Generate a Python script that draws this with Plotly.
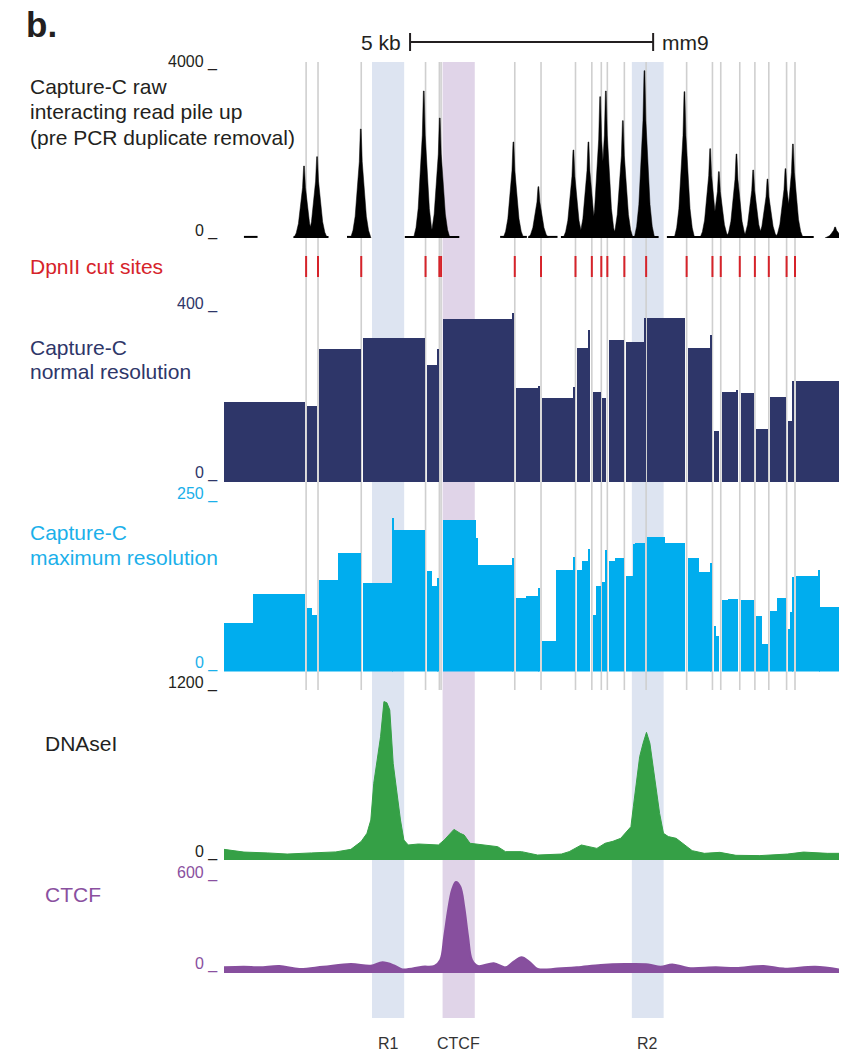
import plotly.graph_objects as go

W, H = 845, 1053

# ---------------- data (genomic position in kb from left edge of view) ----------------
CUT_SITES_KB = [1.689, 1.934, 2.823, 4.146, 4.430, 4.465, 5.981, 6.521, 7.230, 7.566,
                7.761, 7.885, 8.235, 8.683, 9.516, 10.047, 10.218, 10.609, 10.920,
                11.206, 11.572, 11.745]

REGION_NAMES = ["R1", "CTCF", "R2"]
REGION_START_KB = [3.044, 4.496, 8.389]
REGION_END_KB = [3.706, 5.158, 9.043]
REGION_COLORS = ["#dde4f1", "#e0d4e8", "#dde4f1"]

# Capture-C raw pile up: peak summits and heights
RAW_PEAK_KB = [1.646, 1.914, 2.813, 4.109, 4.438, 5.953, 6.467, 7.187, 7.496, 7.737,
               7.854, 8.204, 8.648, 9.471, 10.000, 10.179, 10.541, 10.885, 11.179,
               11.549, 11.702, 12.570]
RAW_PEAK_TOP = [1636, 1848, 2477, 3341, 2727, 2182, 1167, 2000, 2182, 3212,
                3341, 2667, 3803, 3326, 2030, 1508, 1909, 1545, 1341,
                1576, 2136, 250]
# outline of a single pile-up (offset kb, fraction of summit)
RAW_PEAK_DX = [-0.21, -0.16, -0.115, -0.07, -0.03, -0.008, 0.008, 0.03, 0.07, 0.115, 0.16, 0.21]
RAW_PEAK_FRAC = [0, 0.07, 0.2, 0.45, 0.7, 1, 1, 0.7, 0.45, 0.2, 0.07, 0]
RAW_COVER_START = [0.41, 1.43, 2.53, 3.72, 5.68, 6.26, 6.93, 9.11, 12.44]
RAW_COVER_END = [0.69, 2.15, 3.00, 4.84, 6.23, 6.86, 8.94, 12.13, 12.65]

# Capture-C normal resolution (fragment bins)
NORMAL_LEFT = [0.00, 1.71, 1.96, 2.85, 4.17, 4.40, 4.50, 5.94, 6.01, 6.47, 6.55, 7.18, 7.26,
               7.49, 7.60, 7.78, 7.91, 8.26, 8.65, 8.71, 9.54, 10.01, 10.07, 10.24, 10.54,
               10.63, 10.95, 11.23, 11.60, 11.70, 11.77]
NORMAL_RIGHT = [1.67, 1.92, 2.81, 4.13, 4.40, 4.42, 5.94, 5.96, 6.47, 6.50, 7.18, 7.20, 7.49,
                7.52, 7.75, 7.86, 8.22, 8.65, 8.67, 9.48, 10.01, 10.03, 10.19, 10.54, 10.58,
                10.90, 11.19, 11.56, 11.70, 11.73, 12.67]
NORMAL_VALUE = [187, 177, 311, 337, 273, 311, 381, 395, 220, 224, 196, 222, 313,
                355, 210, 196, 332, 327, 384, 384, 313, 344, 119, 210, 215,
                208, 123, 198, 142, 236, 236]

# Capture-C maximum resolution
MAX_LEFT = [0.00, 0.60, 1.71, 1.81, 1.96, 2.35, 2.85, 3.47, 3.49, 4.17, 4.28, 4.40, 4.50,
            5.19, 5.22, 5.94, 6.01, 6.21, 6.47, 6.55, 6.82, 7.18, 7.26, 7.37, 7.49, 7.60,
            7.65, 7.78, 7.84, 7.91, 8.05, 8.26, 8.42, 8.46, 8.71, 9.08, 9.54, 9.78, 10.01,
            10.07, 10.12, 10.24, 10.37, 10.63, 10.95, 11.06, 11.23, 11.38, 11.60, 11.65,
            11.70, 11.77, 12.22, 12.24]
MAX_RIGHT = [0.60, 1.67, 1.81, 1.92, 2.35, 2.81, 3.47, 3.49, 4.13, 4.28, 4.40, 4.42, 5.19,
             5.22, 5.94, 5.96, 6.21, 6.47, 6.50, 6.82, 7.18, 7.21, 7.37, 7.49, 7.52, 7.65,
             7.75, 7.84, 7.86, 8.05, 8.22, 8.42, 8.46, 8.65, 9.08, 9.48, 9.78, 10.01, 10.04,
             10.12, 10.19, 10.37, 10.58, 10.90, 11.06, 11.19, 11.38, 11.56, 11.65, 11.70,
             11.73, 12.22, 12.24, 12.67]
MAX_VALUE = [71, 113, 93, 83, 133, 173, 129, 224, 206, 147, 125, 136, 221,
             195, 155, 166, 107, 110, 122, 45, 148, 167, 148, 161, 179, 83,
             125, 131, 177, 161, 166, 139, 186, 187, 196, 187, 166, 145, 158,
             66, 52, 104, 106, 104, 81, 40, 88, 107, 62, 87,
             138, 139, 148, 94]

# DNaseI signal
DNASE_KB = [0.00, 0.41, 0.90, 1.30, 1.80, 2.30, 2.61, 2.82, 2.94, 3.02, 3.08, 3.17, 3.22, 3.29,
            3.35, 3.41, 3.48, 3.55, 3.63, 3.70, 3.79, 4.00, 4.41, 4.53, 4.65, 4.73, 4.86,
            4.94, 5.06, 5.30, 5.63, 5.79, 6.12, 6.45, 6.94, 7.10, 7.35, 7.51, 7.67, 7.84,
            8.00, 8.16, 8.28, 8.37, 8.42, 8.49, 8.55, 8.62, 8.69, 8.76, 8.83, 8.90, 8.96,
            9.04, 9.14, 9.30, 9.47, 9.63, 9.88, 10.20, 10.53, 11.02, 11.59, 11.92, 12.41,
            12.65]
DNASE_VAL = [75, 56, 50, 42, 50, 57, 75, 130, 188, 282, 541, 741, 870, 1118,
             1110, 1059, 682, 494, 282, 141, 106, 113, 106, 141, 188, 216, 188,
             176, 118, 106, 94, 59, 59, 35, 42, 59, 106, 94, 82, 118,
             132, 153, 200, 235, 376, 565, 729, 824, 901, 824, 659, 471, 329,
             188, 165, 153, 106, 66, 47, 54, 33, 31, 42, 56, 47,
             47]

# CTCF signal
CTCF_KB = [0.00, 0.41, 0.73, 1.14, 1.55, 2.04, 2.61, 3.02, 3.26, 3.51, 3.67, 4.08, 4.33, 4.45,
           4.53, 4.61, 4.69, 4.77, 4.86, 4.94, 5.02, 5.10, 5.22, 5.55, 5.79, 5.96, 6.12, 6.28,
           6.45, 6.86, 7.26, 7.75, 8.24, 8.73, 8.98, 9.22, 9.55, 10.12, 10.53, 11.10, 11.51,
           12.16, 12.65]
CTCF_VAL = [36, 40, 36, 45, 26, 40, 57, 47, 68, 47, 23, 40, 45, 83,
            232, 402, 530, 581, 551, 423, 232, 83, 45, 62, 36, 72, 100, 72,
            26, 28, 36, 51, 57, 55, 40, 55, 32, 36, 32, 45, 28,
            40, 23]

SCALE_BAR_START_KB = 3.827
SCALE_BAR_LEN_KB = 5.0
X_RANGE = [0, 12.65]

TRACK_RANGES = {"raw": 4000, "normal": 400, "max": 250, "dnase": 1200, "ctcf": 600}

# ---------------- styling ----------------
FONT = "Liberation Sans, Arial, Helvetica, sans-serif"
C_BLACK = "#231f20"
C_RED = "#d6232a"
C_NAVY = "#2e3669"
C_CYAN = "#00adee"
C_CYAN_TXT = "#1bb0ea"
C_GREEN = "#35a046"
C_PURPLE = "#874f9e"
C_PURPLE_TXT = "#8a50a0"
C_GRAY = "#cfcfcf"


def py(px):
    return 1 - px / H


fig = go.Figure()

# raw pile up
rx, ry = [], []
for c, t in zip(RAW_PEAK_KB, RAW_PEAK_TOP):
    for dx, f in zip(RAW_PEAK_DX, RAW_PEAK_FRAC):
        rx.append(c + dx)
        ry.append(t * f)
    rx.append(None)
    ry.append(None)
bx, by = [], []
for s, e in zip(RAW_COVER_START, RAW_COVER_END):
    bx += [s, e, None]
    by += [25, 25, None]
fig.add_trace(go.Scatter(x=bx, y=by, mode="lines", line=dict(color="black", width=2),
                         xaxis="x", yaxis="y", hoverinfo="skip", showlegend=False))
fig.add_trace(go.Scatter(x=rx, y=ry, mode="lines", fill="toself", fillcolor="black",
                         line=dict(color="black", width=0.5), xaxis="x", yaxis="y",
                         hoverinfo="skip", showlegend=False))


def bars(left, right, val, color, yaxis):
    cx = [(a + b) / 2 for a, b in zip(left, right)]
    w = [b - a for a, b in zip(left, right)]
    fig.add_trace(go.Bar(x=cx, y=val, width=w, marker=dict(color=color, line=dict(width=0)),
                         xaxis="x", yaxis=yaxis, hoverinfo="skip", showlegend=False))


bars(NORMAL_LEFT, NORMAL_RIGHT, NORMAL_VALUE, C_NAVY, "y2")
bars(MAX_LEFT, MAX_RIGHT, MAX_VALUE, C_CYAN, "y3")

fig.add_trace(go.Scatter(x=DNASE_KB, y=DNASE_VAL, mode="lines", fill="tozeroy",
                         fillcolor=C_GREEN, line=dict(color=C_GREEN, width=1),
                         xaxis="x", yaxis="y4", hoverinfo="skip", showlegend=False))
fig.add_trace(go.Scatter(x=CTCF_KB, y=CTCF_VAL, mode="lines", fill="tozeroy",
                         fillcolor=C_PURPLE, line=dict(color=C_PURPLE, width=2, shape="spline"),
                         xaxis="x", yaxis="y5", hoverinfo="skip", showlegend=False))

shapes = []
for s, e, col in zip(REGION_START_KB, REGION_END_KB, REGION_COLORS):
    shapes.append(dict(type="rect", xref="x", yref="paper", x0=s, x1=e, y0=py(1018), y1=py(62),
                       fillcolor=col, line=dict(width=0), layer="below"))
for c in CUT_SITES_KB:
    shapes.append(dict(type="line", xref="x", yref="paper", x0=c, x1=c, y0=py(690), y1=py(62),
                       line=dict(color=C_GRAY, width=1.6), layer="below"))
for c in CUT_SITES_KB:
    shapes.append(dict(type="line", xref="x", yref="paper", x0=c, x1=c, y0=py(277), y1=py(256),
                       line=dict(color=C_RED, width=2), layer="below"))
# scale bar
sb0, sb1 = SCALE_BAR_START_KB, SCALE_BAR_START_KB + SCALE_BAR_LEN_KB
shapes.append(dict(type="line", xref="x", yref="paper", x0=sb0, x1=sb1, y0=py(42), y1=py(42),
                   line=dict(color=C_BLACK, width=2)))
for xx in (sb0, sb1):
    shapes.append(dict(type="line", xref="x", yref="paper", x0=xx, x1=xx, y0=py(51), y1=py(33),
                       line=dict(color=C_BLACK, width=2)))

ann = []


def text(t, x, y, size, color, xanchor="left", xref="paper", bold=False, xshift=0):
    ann.append(dict(text=("<b>%s</b>" % t) if bold else t, x=x, y=py(y), xref=xref, yref="paper",
                    xanchor=xanchor, yanchor="middle", showarrow=False, xshift=xshift,
                    font=dict(family=FONT, size=size, color=color)))


text("b.", 24 / W, 25, 35, C_BLACK, bold=True)
text("5 kb", sb0, 42, 21, C_BLACK, xanchor="right", xref="x", xshift=-7)
text("mm9", sb1, 42, 21, C_BLACK, xanchor="left", xref="x", xshift=7)

text("Capture-C raw", 28 / W, 87, 21, C_BLACK)
text("interacting read pile up", 28 / W, 112, 21, C_BLACK)
text("(pre PCR duplicate removal)", 28 / W, 137, 21, C_BLACK)
text("DpnII cut sites", 28 / W, 266, 21, C_RED)
text("Capture-C", 28 / W, 347, 21, C_NAVY)
text("normal resolution", 28 / W, 371, 21, C_NAVY)
text("Capture-C", 28 / W, 532, 21, C_CYAN_TXT)
text("maximum resolution", 28 / W, 557, 21, C_CYAN_TXT)
text("DNAseI", 43 / W, 743, 21, C_BLACK)
text("CTCF", 43 / W, 894, 21, C_PURPLE_TXT)

TX = 220 / W
text("%d _" % TRACK_RANGES["raw"], TX, 62, 16, C_BLACK, xanchor="right")
text("0 _", TX, 231, 16, C_BLACK, xanchor="right")
text("%d _" % TRACK_RANGES["normal"], TX, 304, 16, C_NAVY, xanchor="right")
text("0 _", TX, 473, 16, C_NAVY, xanchor="right")
text("%d _" % TRACK_RANGES["max"], TX, 494, 16, C_CYAN_TXT, xanchor="right")
text("0 _", TX, 663, 16, C_CYAN_TXT, xanchor="right")
text("%d _" % TRACK_RANGES["dnase"], TX, 683, 16, C_BLACK, xanchor="right")
text("0 _", TX, 852, 16, C_BLACK, xanchor="right")
text("%d _" % TRACK_RANGES["ctcf"], TX, 873, 16, C_PURPLE_TXT, xanchor="right")
text("0 _", TX, 964, 16, C_PURPLE_TXT, xanchor="right")

for name, s, e in zip(REGION_NAMES, REGION_START_KB, REGION_END_KB):
    text(name, (s + e) / 2, 1043, 16, "#333333", xanchor="center", xref="x")

hidden = dict(visible=False, showgrid=False, zeroline=False, fixedrange=True)
fig.update_layout(
    width=W, height=H, margin=dict(l=0, r=0, t=0, b=0),
    paper_bgcolor="white", plot_bgcolor="rgba(0,0,0,0)",
    barmode="overlay", bargap=0, showlegend=False,
    xaxis=dict(domain=[224 / W, 839 / W], range=X_RANGE, anchor="y", **hidden),
    yaxis=dict(domain=[py(238), py(62)], range=[0, TRACK_RANGES["raw"]], anchor="x", **hidden),
    yaxis2=dict(domain=[py(482), py(311)], range=[0, TRACK_RANGES["normal"]], anchor="x", **hidden),
    yaxis3=dict(domain=[py(671.5), py(500)], range=[0, TRACK_RANGES["max"]], anchor="x", **hidden),
    yaxis4=dict(domain=[py(860), py(690)], range=[0, TRACK_RANGES["dnase"]], anchor="x", **hidden),
    yaxis5=dict(domain=[py(973), py(879)], range=[0, TRACK_RANGES["ctcf"]], anchor="x", **hidden),
    shapes=shapes, annotations=ann,
)

fig.write_html("out.html")
